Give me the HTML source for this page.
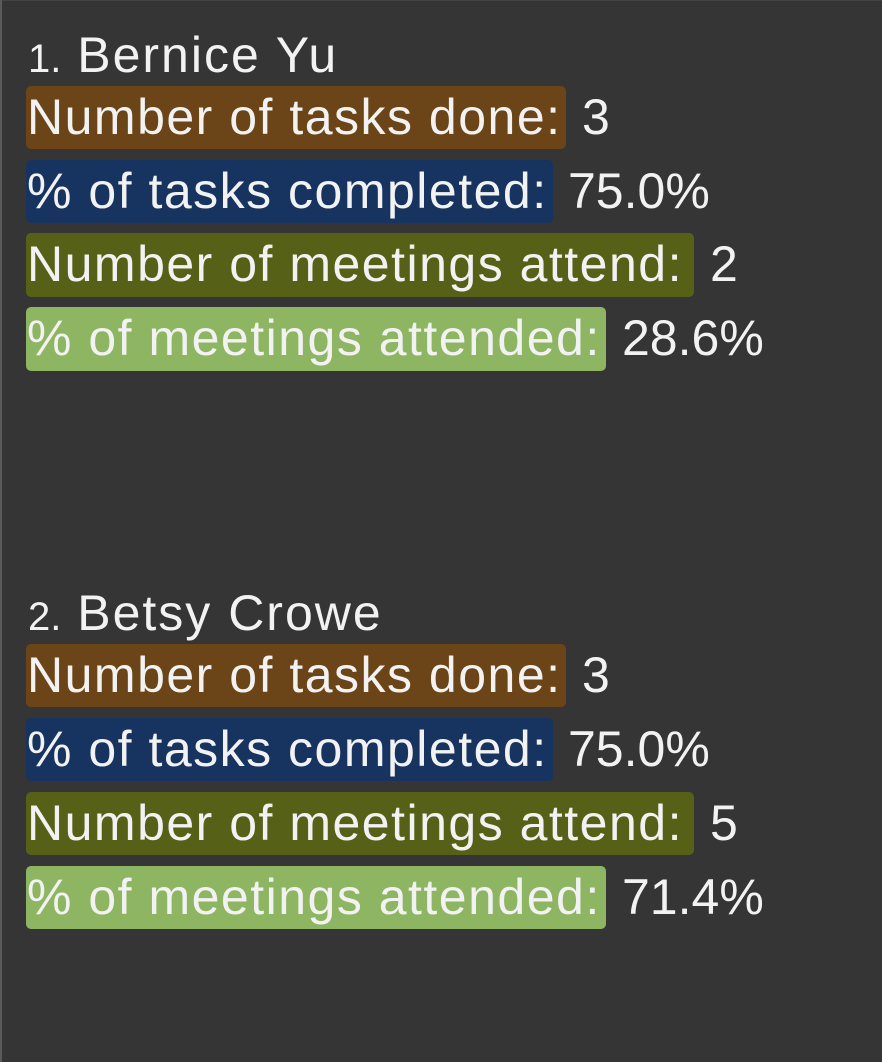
<!DOCTYPE html>
<html><head><meta charset="utf-8"><style>
html,body{margin:0;padding:0;}
body{width:882px;height:1062px;background:#353535;position:relative;overflow:hidden;font-family:"Liberation Sans",sans-serif;color:#f2f2f2;}
.edge{position:absolute;left:0;top:0;width:2px;height:1062px;background:#5a5a5a;}
.topedge{position:absolute;left:0;top:0;width:882px;height:1px;background:#444;}
.h{position:absolute;left:28px;font-size:50px;line-height:50px;white-space:nowrap;letter-spacing:2px;}
.h .n{font-size:40px;letter-spacing:0;}
.lab{position:absolute;left:26px;height:63px;border-radius:5px;font-size:50px;letter-spacing:1.5px;line-height:63px;white-space:nowrap;box-sizing:border-box;padding-left:1px;overflow:hidden;}
.val{position:absolute;font-size:50px;line-height:63px;white-space:nowrap;}
.c1{background:#6b4518;}
.c2{background:#17335f;}
.c3{background:#566017;}
.c4{background:#8db562;}
</style></head><body>
<div class="topedge"></div>
<div class="edge"></div>

<div class="h" style="top:30px"><span class="n">1.</span> Bernice Yu</div>
<div class="lab c1" style="top:86px;width:540px">Number of tasks done:</div>
<div class="val" style="top:86px;left:582px">3</div>
<div class="lab c2" style="top:160px;width:527px">% of tasks completed:</div>
<div class="val" style="top:160px;left:568px">75.0%</div>
<div class="lab c3" style="top:233px;width:668px;height:64px">Number of meetings attend:</div>
<div class="val" style="top:233px;left:710px">2</div>
<div class="lab c4" style="top:307px;width:580px;height:64px">% of meetings attended:</div>
<div class="val" style="top:307px;left:622px">28.6%</div>

<div class="h" style="top:588px"><span class="n">2.</span> Betsy Crowe</div>
<div class="lab c1" style="top:644px;width:540px">Number of tasks done:</div>
<div class="val" style="top:644px;left:582px">3</div>
<div class="lab c2" style="top:718px;width:527px">% of tasks completed:</div>
<div class="val" style="top:718px;left:568px">75.0%</div>
<div class="lab c3" style="top:792px;width:668px">Number of meetings attend:</div>
<div class="val" style="top:792px;left:710px">5</div>
<div class="lab c4" style="top:866px;width:580px">% of meetings attended:</div>
<div class="val" style="top:866px;left:622px">71.4%</div>
</body></html>
